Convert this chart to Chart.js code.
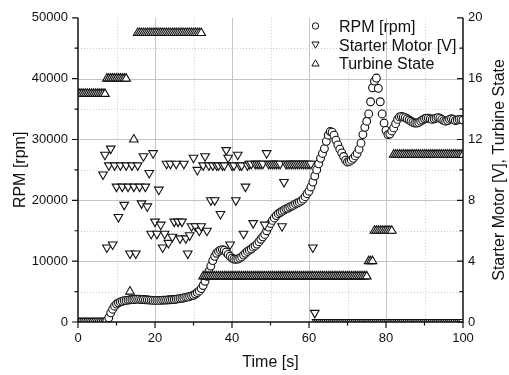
<!DOCTYPE html>
<html><head><meta charset="utf-8">
<script src="https://cdn.jsdelivr.net/npm/chart.js@4.4.1/dist/chart.umd.min.js"></script>
<style>html,body{margin:0;padding:0;background:#fff;}canvas{display:block;}</style>
</head><body>
<canvas id="c" width="509" height="375"></canvas>
<script>
const time = [
0,0.5,1,1.5,2,2.5,3,3.5,4,4.5,
5,5.5,6,6.5,7,7.5,8,8.5,9,9.5,
10,10.5,11,11.5,12,12.5,13,13.5,14,14.5,
15,15.5,16,16.5,17,17.5,18,18.5,19,19.5,
20,20.5,21,21.5,22,22.5,23,23.5,24,24.5,
25,25.5,26,26.5,27,27.5,28,28.5,29,29.5,
30,30.5,31,31.5,32,32.5,33,33.5,34,34.5,
35,35.5,36,36.5,37,37.5,38,38.5,39,39.5,
40,40.5,41,41.5,42,42.5,43,43.5,44,44.5,
45,45.5,46,46.5,47,47.5,48,48.5,49,49.5,
50,50.5,51,51.5,52,52.5,53,53.5,54,54.5,
55,55.5,56,56.5,57,57.5,58,58.5,59,59.5,
60,60.5,61,61.5,62,62.5,63,63.5,64,64.5,
65,65.5,66,66.5,67,67.5,68,68.5,69,69.5,
70,70.5,71,71.5,72,72.5,73,73.5,74,74.5,
75,75.5,76,76.5,77,77.5,78,78.5,79,79.5,
80,80.5,81,81.5,82,82.5,83,83.5,84,84.5,
85,85.5,86,86.5,87,87.5,88,88.5,89,89.5,
90,90.5,91,91.5,92,92.5,93,93.5,94,94.5,
95,95.5,96,96.5,97,97.5,98,98.5,99,99.5,
100];
const rpm = [
0,0,0,0,0,0,0,0,0,0,
0,0,0,0,0,200,700,1500,2100,2600,
2950,3150,3300,3400,3500,3550,3600,3650,3700,3700,
3750,3750,3750,3700,3700,3650,3650,3600,3600,3550,
3550,3550,3550,3550,3600,3600,3600,3650,3650,3700,
3700,3750,3800,3850,3900,3950,4050,4100,4200,4300,
4400,4600,4850,5100,5500,6000,6700,7500,8300,9200,
10100,10800,11300,11600,11800,11900,11800,11500,11100,10800,
10500,10350,10300,10350,10500,10700,11000,11300,11600,11800,
12000,12300,12500,12800,13200,13600,14000,14400,15000,15600,
16200,16700,17100,17500,17800,18000,18200,18400,18600,18700,
18900,19050,19200,19400,19550,19700,19900,20200,20600,21100,
21500,22200,23000,24000,25000,26000,26900,27700,28500,29700,
30700,31300,31200,30700,29900,29100,28400,27800,27200,26600,
26300,26400,26600,26900,27300,27700,28400,29400,30800,32000,
33000,34200,36200,38500,39600,40100,38400,36200,34200,32700,
31500,30800,30900,31400,31900,32600,33300,33700,33800,33700,
33600,33400,33200,33000,32800,32700,32700,32800,33000,33200,
33400,33500,33500,33400,33300,33400,33500,33600,33500,33300,
33100,33000,33100,33300,33400,33300,33100,33200,33300,33300,
33200];
const starter = [
null,null,null,null,null,null,null,null,null,null,
null,null,null,9.7,11.0,4.9,10.3,11.4,5.1,10.3,
8.9,6.9,10.3,8.9,7.7,10.3,8.9,4.5,10.3,8.9,
4.5,10.3,8.9,7.8,10.9,8.9,7.6,9.8,5.8,11.1,
6.6,5.8,8.7,6.4,4.9,5.8,10.4,5.2,10.4,5.6,
6.6,10.4,6.6,5.5,6.6,10.4,5.5,4.5,5.7,6.3,
10.8,6.3,10.0,6.0,6.3,10.3,10.9,6.0,10.3,8.0,
10.3,8.0,10.3,10.3,7.1,10.3,10.3,11.3,10.8,5.1,
10.3,10.3,8.0,11.0,10.3,10.3,5.8,8.9,10.3,10.4,
10.4,6.5,10.4,10.4,10.4,10.4,10.4,6.4,11.1,10.4,
10.4,10.4,10.4,10.4,10.4,10.4,6.3,9.2,10.4,10.4,
10.4,10.4,10.4,10.4,10.4,10.4,10.4,10.4,10.4,10.4,
10.4,10.4,4.9,0.6,0,0,0,0,0,0,
0,0,0,0,0,0,0,0,0,0,
0,0,0,0,0,0,0,0,0,0,
0,0,0,0,0,0,0,0,0,0,
0,0,0,0,0,0,0,0,0,0,
0,0,0,0,0,0,0,0,0,0,
0,0,0,0,0,0,0,0,0,0,
0,0,0,0,0,0,0,0,0,0,
0];
const turbine = [
15,15,15,15,15,15,15,15,15,15,
15,15,15,15,15,16,16,16,16,16,
16,16,16,16,16,16,null,2,null,12,
null,19,19,19,19,19,19,19,19,19,
19,19,19,19,19,19,19,19,19,19,
19,19,19,19,19,19,19,19,19,19,
19,19,19,19,19,3,3,3,3,3,
3,3,3,3,3,3,3,3,3,3,
3,3,3,3,3,3,3,3,3,3,
3,3,3,3,3,3,3,3,3,3,
3,3,3,3,3,3,3,3,3,3,
3,3,3,3,3,3,3,3,3,3,
3,3,3,3,3,3,3,3,3,3,
3,3,3,3,3,3,3,3,3,3,
3,3,3,3,3,3,3,3,3,3,
3,4,4,4,6,6,6,6,6,6,
6,6,6,6,11,11,11,11,11,11,
11,11,11,11,11,11,11,11,11,11,
11,11,11,11,11,11,11,11,11,11,
11,11,11,11,11,11,11,11,11,11,
11];
const xTicks = [0,20,40,60,80,100];
const xMinor = [10,30,50,70,90];
const yTicks = [0,10000,20000,30000,40000,50000];
const yMinor = [5000,15000,25000,35000,45000];
const y2Ticks = [0,4,8,12,16,20];
const y2Minor = [2,6,10,14,18];
const legendLabels = ['RPM [rpm]','Starter Motor [V]','Turbine State'];
const xTitle = 'Time [s]';
const yTitle = 'RPM [rpm]';
const y2Title = 'Starter Motor [V], Turbine State';

const FONT = '"Liberation Sans", Arial, Helvetica, sans-serif';
Chart.defaults.font.family = FONT;
Chart.defaults.font.size = 13;
Chart.defaults.color = '#111';

function pts(ys){const out=[];for(let i=0;i<time.length;i++){if(ys[i]!==null)out.push({x:time[i],y:ys[i]});}return out;}

const decor = {
  id:'decor',
  beforeDatasetsDraw(chart){
    const {ctx, chartArea:a, scales} = chart;
    const x = scales.x, y = scales.y;
    ctx.save();
    ctx.lineWidth = 1;
    ctx.strokeStyle = '#cdcdcd';
    ctx.setLineDash([1,2]);
    ctx.beginPath();
    xMinor.forEach(v=>{const p=Math.round(x.getPixelForValue(v))+0.5;ctx.moveTo(p,a.top);ctx.lineTo(p,a.bottom);});
    yMinor.forEach(v=>{const p=Math.round(y.getPixelForValue(v))+0.5;ctx.moveTo(a.left,p);ctx.lineTo(a.right,p);});
    ctx.stroke();
    ctx.setLineDash([]);
    ctx.strokeStyle = '#c4c4c4';
    ctx.beginPath();
    xTicks.slice(1,-1).forEach(v=>{const p=Math.round(x.getPixelForValue(v))+0.5;ctx.moveTo(p,a.top);ctx.lineTo(p,a.bottom);});
    yTicks.slice(1,-1).forEach(v=>{const p=Math.round(y.getPixelForValue(v))+0.5;ctx.moveTo(a.left,p);ctx.lineTo(a.right,p);});
    ctx.stroke();
    ctx.restore();
  },
  afterDatasetsDraw(chart){
    const {ctx, chartArea:a, scales} = chart;
    const x = scales.x, y = scales.y, y2 = scales.y2;
    ctx.save();
    ctx.strokeStyle = '#111';
    ctx.lineWidth = 1.5;
    ctx.beginPath();
    ctx.moveTo(a.left, a.top); ctx.lineTo(a.left, a.bottom); ctx.lineTo(a.right, a.bottom); ctx.lineTo(a.right, a.top);
    ctx.stroke();
    ctx.lineWidth = 1.2;
    ctx.beginPath();
    xTicks.forEach(v=>{const p=x.getPixelForValue(v);ctx.moveTo(p,a.bottom);ctx.lineTo(p,a.bottom+6);});
    xMinor.forEach(v=>{const p=x.getPixelForValue(v);ctx.moveTo(p,a.bottom);ctx.lineTo(p,a.bottom+3.5);});
    yTicks.forEach(v=>{const p=y.getPixelForValue(v);ctx.moveTo(a.left-6,p);ctx.lineTo(a.left,p);});
    yMinor.forEach(v=>{const p=y.getPixelForValue(v);ctx.moveTo(a.left-3.5,p);ctx.lineTo(a.left,p);});
    y2Ticks.forEach(v=>{const p=y2.getPixelForValue(v);ctx.moveTo(a.right-6,p);ctx.lineTo(a.right,p);});
    y2Minor.forEach(v=>{const p=y2.getPixelForValue(v);ctx.moveTo(a.right-3.5,p);ctx.lineTo(a.right,p);});
    ctx.stroke();

    ctx.fillStyle = '#111';
    ctx.font = '16px ' + FONT;
    ctx.textAlign = 'center';
    ctx.textBaseline = 'alphabetic';
    ctx.fillText(xTitle, (a.left+a.right)/2, 367);
    const cy = (a.top+a.bottom)/2;
    ctx.save(); ctx.translate(25, cy); ctx.rotate(-Math.PI/2); ctx.fillText(yTitle, 0, 0); ctx.restore();
    ctx.save(); ctx.translate(504, cy); ctx.rotate(-Math.PI/2); ctx.fillText(y2Title, 0, 0); ctx.restore();

    ctx.textAlign = 'left';
    const lx = 339, sx = 315.5;
    const rows = [32, 50.5, 69];
    legendLabels.forEach((t,i)=>ctx.fillText(t, lx, rows[i]));
    ctx.lineWidth = 1;
    ctx.strokeStyle = '#111';
    ctx.fillStyle = '#fff';
    ctx.beginPath(); ctx.arc(sx, 26, 3.2, 0, Math.PI*2); ctx.fill(); ctx.stroke();
    ctx.beginPath(); ctx.moveTo(sx-3.6, 42); ctx.lineTo(sx+3.6, 42); ctx.lineTo(sx, 48.2); ctx.closePath(); ctx.fill(); ctx.stroke();
    ctx.beginPath(); ctx.moveTo(sx, 59.8); ctx.lineTo(sx+3.6, 66); ctx.lineTo(sx-3.6, 66); ctx.closePath(); ctx.fill(); ctx.stroke();
    ctx.restore();
  }
};

function setTicks(arr){return s=>{s.ticks = arr.map(v=>({value:v}));};}

new Chart(document.getElementById('c').getContext('2d'), {
  type:'scatter',
  data:{datasets:[
    {label:legendLabels[0], data:pts(rpm), yAxisID:'y', pointStyle:'circle', pointRadius:3.9, pointHoverRadius:3.9,
     pointBorderWidth:1.1, pointBorderColor:'#111', pointBackgroundColor:'#fff', order:3, clip:0},
    {label:legendLabels[1], data:pts(starter), yAxisID:'y2', pointStyle:'triangle', pointRotation:180, pointRadius:5.0, pointHoverRadius:5.0,
     pointBorderWidth:1.1, pointBorderColor:'#111', pointBackgroundColor:'#fff', order:2, clip:0},
    {label:legendLabels[2], data:pts(turbine), yAxisID:'y2', pointStyle:'triangle', pointRotation:0, pointRadius:5.0, pointHoverRadius:5.0,
     pointBorderWidth:1.1, pointBorderColor:'#111', pointBackgroundColor:'#fff', order:1, clip:0}
  ]},
  options:{
    responsive:false, animation:false, devicePixelRatio:1, events:[],
    layout:{padding:{top:13,left:0,right:0,bottom:0}},
    plugins:{legend:{display:false}, tooltip:{enabled:false}},
    scales:{
      x:{type:'linear', position:'bottom', min:0, max:100, afterBuildTicks:setTicks(xTicks), afterFit:s=>{s.height=53;},
         grid:{display:false, drawTicks:false}, border:{display:false},
         ticks:{padding:9, autoSkip:false, maxRotation:0, callback:v=>String(v)}},
      y:{type:'linear', position:'left', min:0, max:50000, afterBuildTicks:setTicks(yTicks), afterFit:s=>{s.width=78;},
         grid:{display:false, drawTicks:false}, border:{display:false},
         ticks:{padding:10, autoSkip:false, callback:v=>String(v)}},
      y2:{type:'linear', position:'right', min:0, max:20, afterBuildTicks:setTicks(y2Ticks), afterFit:s=>{s.width=46;},
         grid:{display:false, drawTicks:false}, border:{display:false},
         ticks:{padding:5, autoSkip:false, callback:v=>String(v)}}
    }
  },
  plugins:[decor]
});
</script>
</body></html>
